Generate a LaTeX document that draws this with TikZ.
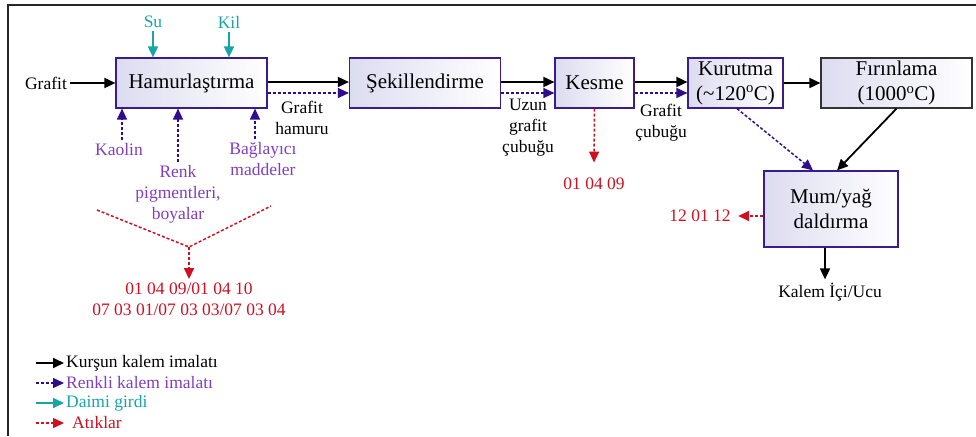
\documentclass[tikz,border=0pt]{standalone}
\usepackage{fontspec}
\setmainfont{Liberation Serif}
\usepackage{xcolor}
\usepackage{tikz}
\usetikzlibrary{arrows.meta}

\definecolor{boxline}{HTML}{3A1C8E}
\definecolor{boxfill}{HTML}{DCDCF0}
\definecolor{dotline}{HTML}{2E0C8C}
\definecolor{purptext}{HTML}{7F3FBF}
\definecolor{tealc}{HTML}{17A5A5}
\definecolor{wastec}{HTML}{CC1122}

\begin{document}
\begin{tikzpicture}[>={Triangle[length=11pt,width=10pt]}, x=1pt, y=-1pt,
  proc/.style={draw=boxline, line width=1.2pt, left color=boxfill, right color=white,
    inner sep=0pt, align=center, font=\fontsize{21}{25}\selectfont},
  lbl/.style={align=center, font=\fontsize{17.5}{21}\selectfont},
  main/.style={->, line width=1.8pt},
  colr/.style={->, draw=dotline, line width=1.5pt, dash pattern=on 3pt off 2pt},
  fixd/.style={->, draw=tealc, line width=1.8pt},
  waste/.style={draw=wastec, line width=1.5pt, dash pattern=on 3pt off 2pt}]
  \useasboundingbox (0,0) rectangle (976,436);
  \draw[line width=1.5pt, black!85] (8,436) -- (8,5) -- (976,5);

  % process boxes
  \node[proc, minimum width=151pt, minimum height=50pt] (hamur) at (191.5,83) {Hamurlaştırma};
  \node[proc, minimum width=151pt, minimum height=50pt] (shape) at (425,83) {Şekillendirme};
  \node[proc, minimum width=79pt, minimum height=50pt] (kesme) at (594.5,83) {Kesme};
  \node[proc, minimum width=95pt, minimum height=50pt] (kurut) at (735.5,83)
    {Kurutma\\(\textasciitilde120\textsuperscript{o}C)};
  \node[proc, draw=black!80, minimum width=151pt, minimum height=50pt] (firin) at (896.5,83)
    {Fırınlama\\(1000\textsuperscript{o}C)};
  \node[proc, minimum width=134pt, minimum height=76pt] (mum) at (831,209) {Mum/yağ\\daldırma};

  % inputs
  \node[lbl] (grafit) at (46,83) {Grafit};
  \node[lbl, text=tealc] (su) at (153,22) {Su};
  \node[lbl, text=tealc] (kil) at (229,22) {Kil};
  \node[lbl, text=purptext] (kaolin) at (119,150) {Kaolin};
  \node[lbl, text=purptext] (renk) at (178,194) {Renk\\pigmentleri,\\boyalar};
  \node[lbl, text=purptext] (bag) at (263,159) {Bağlayıcı\\maddeler};

  \draw[main] (grafit.east) -- (hamur.west);
  \draw[fixd] (su.south) -- (su.south |- hamur.north);
  \draw[fixd] (kil.south) -- (kil.south |- hamur.north);
  \draw[colr] ([xshift=3pt]kaolin.north) -- ([xshift=3pt]kaolin.north |- hamur.south);
  \draw[colr] (renk.north) -- (renk.north |- hamur.south);
  \draw[colr] ([xshift=-8pt]bag.north) -- ([xshift=-8pt]bag.north |- hamur.south);

  % main line
  \draw[main] ([yshift=1pt]hamur.east) -- ([yshift=1pt]hamur.east -| shape.west);
  \draw[colr] ([yshift=-10pt]hamur.east) -- ([yshift=-10pt]hamur.east -| shape.west);
  \draw[main] ([yshift=1pt]shape.east) -- ([yshift=1pt]shape.east -| kesme.west);
  \draw[colr] ([yshift=-10pt]shape.east) -- ([yshift=-10pt]shape.east -| kesme.west);
  \draw[main] ([yshift=1pt]kesme.east) -- ([yshift=1pt]kesme.east -| kurut.west);
  \draw[colr] ([yshift=-10pt]kesme.east) -- ([yshift=-10pt]kesme.east -| kurut.west);
  \draw[main] (kurut.east) -- (firin.west);
  \draw[colr] ([xshift=1.5pt]kurut.south) -- ([xshift=-18pt]mum.north);
  \draw[main] (firin.south) -- ([xshift=6pt]mum.north);

  \node[lbl] (hamuru) at (302,118) {Grafit\\hamuru};
  \node[lbl] (uzun) at (528,128) {Uzun\\grafit\\çubuğu};
  \node[lbl] (cubuk) at (661,123) {Grafit\\çubuğu};

  % wastes
  \coordinate (wl) at (97,210);
  \coordinate (wr) at (271,206);
  \coordinate (wv) at (189,247);
  \node[lbl, text=wastec] (codes) at (189,299) {01 04 09/01 04 10\\07 03 01/07 03 03/07 03 04};
  \draw[waste] (wl) -- (wv) -- (wr);
  \draw[waste, ->] (wv) -- (codes.north);
  \node[lbl, text=wastec] (kcode) at (594,184) {01 04 09};
  \draw[waste, ->] (kesme.south) -- ([yshift=12pt]kcode.north);
  \node[lbl, text=wastec] (mcode) at (700,216) {12 01 12};
  \draw[waste, ->] ([yshift=-7pt]mum.west) -- ([xshift=4pt]mcode.east);

  \node[lbl] (kalem) at (830,292) {Kalem İçi/Ucu};
  \draw[main] ([xshift=-6pt]mum.south) -- ([xshift=-6pt]mum.south |- kalem.north);

  % legend
  \coordinate (l1) at (36,363);
  \coordinate (l2) at (36,383);
  \coordinate (l3) at (36,403);
  \coordinate (l4) at (36,423);
  \node[lbl, anchor=west, inner sep=2pt] (lg1) at (64,363) {Kurşun kalem imalatı};
  \node[lbl, anchor=west, inner sep=2pt, text=purptext] (lg2) at (64,383) {Renkli kalem imalatı};
  \node[lbl, anchor=west, inner sep=2pt, text=tealc] (lg3) at (64,403) {Daimi girdi};
  \node[lbl, anchor=west, inner sep=2pt, text=wastec] (lg4) at (70,423) {Atıklar};
  \draw[main] (l1) -- (lg1.west);
  \draw[colr] (l2) -- (lg2.west);
  \draw[fixd] (l3) -- (lg3.west);
  \draw[waste, ->] (l4) -- ([xshift=-6pt]lg4.west);
\end{tikzpicture}
\end{document}
